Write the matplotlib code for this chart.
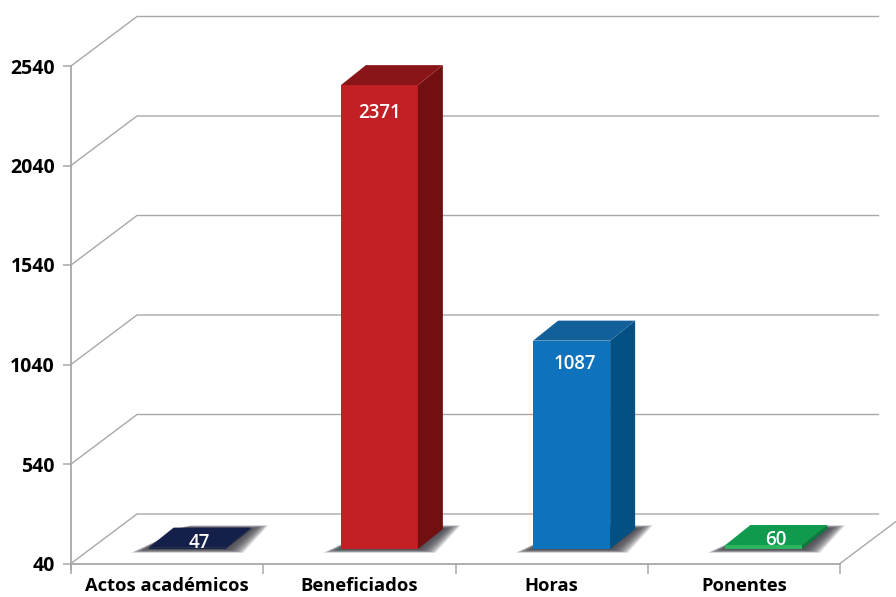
import numpy as np
import matplotlib

matplotlib.use('Agg')
import matplotlib.pyplot as plt
from matplotlib.patches import Polygon

categories = ['Actos académicos', 'Beneficiados', 'Horas', 'Ponentes']
values = [47, 2371, 1087, 60]
yticks = [40, 540, 1040, 1540, 2040, 2540]

front_colors = ['#141f4a', '#c32025', '#0e72bc', '#2db45f']
side_colors = ['#141f4a', '#720f10', '#055083', '#0c7a3c']
top_colors = ['#141f4a', '#8a1519', '#116099', '#0f9a4d']
grid_color = '#a8a8a8'

plt.rcParams['font.family'] = ['Open Sans', 'DejaVu Sans']

fig = plt.figure(figsize=(8.96, 5.97), dpi=100)
ax = fig.add_axes([71 / 896., (597 - 563.5) / 597., 769 / 896., 497.5 / 597.])
ax.set_xlim(0, 4)
ax.set_ylim(40, 2540)

# one pixel in data units
px = 4 / 769.
py = 2500 / 497.5

# back wall and floor, the chart is a fake 3d one
wall_x = 66 * px
wall_y = 49.5 * py
for y in yticks:
  ax.plot([0, wall_x, 4.2], [y, y + wall_y, y + wall_y], color=grid_color, lw=1.0, clip_on=False, zorder=1)
ax.plot([4, 4 + wall_x * 1.1], [40, 40 + wall_y * 1.1], color=grid_color, lw=1.0, clip_on=False, zorder=1)

# bar sits a bit inside the floor
lift_x = 20 * px
lift_y = 14.5 * py
depth_x = 25 * px
depth_y = 20 * py
width = 77 * px

for i, val in enumerate(values):
  left = i + 0.5 - width / 2 + lift_x
  right = left + width
  base = 40 + lift_y
  top = base + val - 40

  # blurred shadow on the floor, many thin layers fade it out
  for t in np.linspace(1, 0, 30):
    grow_x = (1 + 17 * t) * px
    grow_y = (0.3 + 3.5 * t) * py
    shadow = [(left - grow_x, base - grow_y), (right + grow_x, base - grow_y),
              (right + depth_x + grow_x, base + depth_y + grow_y), (left + depth_x + grow_x, base + depth_y + grow_y)]
    ax.add_patch(Polygon(shadow, closed=True, fc='#45454c', ec='none', alpha=0.07, clip_on=False, zorder=2))

  ax.bar(left, val - 40, width=width, bottom=base, align='edge', color=front_colors[i], clip_on=False, zorder=3)
  side = [(right, base), (right + depth_x, base + depth_y), (right + depth_x, top + depth_y), (right, top)]
  ax.add_patch(Polygon(side, closed=True, fc=side_colors[i], ec='none', clip_on=False, zorder=3))
  lid = [(left, top), (right, top), (right + depth_x, top + depth_y), (left + depth_x, top + depth_y)]
  ax.add_patch(Polygon(lid, closed=True, fc=top_colors[i], ec='none', clip_on=False, zorder=3))

  if val > 500:
    drop = 28 if i == 1 else 23.5
    ax.text(left + width / 2 + (i - 1) * 3 * px, top - drop * py, str(val), color='white', fontsize=13.5, fontweight='semibold',
            ha='center', va='center', zorder=4)
  else:
    ax.text(left + width / 2 + 12 * px, top + 5 * py, str(val), color='white', fontsize=13.5, fontweight='semibold',
            ha='center', va='center', zorder=4)

for s in ['top', 'right']:
  ax.spines[s].set_visible(False)
for s in ['left', 'bottom']:
  ax.spines[s].set_color(grid_color)
  ax.spines[s].set_linewidth(1.3)
ax.spines['left'].set_bounds(40 - 6 * py, 2540)
ax.spines['left'].set_zorder(1)

ax.set_yticks(yticks)
ax.set_yticklabels([str(y) for y in yticks], fontsize=14, fontweight='bold', color='black')
ax.tick_params(axis='y', length=6, width=1.1, color=grid_color, pad=5.5)

ax.set_xticks(range(5))
ax.set_xticklabels([])
ax.tick_params(axis='x', which='major', length=7, width=1.1, color=grid_color)
ax.set_xticks([0.5, 1.5, 2.5, 3.5], minor=True)
ax.set_xticklabels(categories, minor=True, fontsize=13.2, fontweight='bold', color='black')
ax.tick_params(axis='x', which='minor', length=0, pad=10)

fig.savefig('out.png', dpi=100)
